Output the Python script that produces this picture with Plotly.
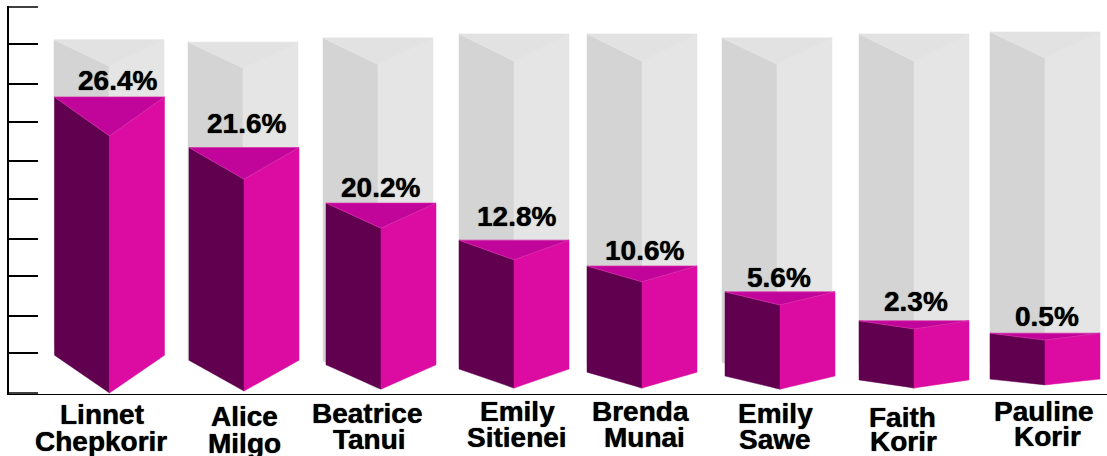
import plotly.graph_objects as go

# ---- data (value axis 0-100, hidden tick labels) ----
first_names = ["Linnet", "Alice", "Beatrice", "Emily", "Brenda", "Emily", "Faith", "Pauline"]
last_names = ["Chepkorir", "Milgo", "Tanui", "Sitienei", "Munai", "Sawe", "Korir", "Korir"]
share_labels = ["26.4%", "21.6%", "20.2%", "12.8%", "10.6%", "5.6%", "2.3%", "0.5%"]
bar_back_top = [76.7, 63.6, 49.2, 39.6, 32.9, 26.2, 18.7, 15.5]
bar_front_top = [66.6, 55.4, 42.7, 34.5, 28.8, 22.8, 16.6, 13.7]
bar_side_base = [9.8, 8.5, 7.3, 6.2, 5.4, 4.4, 3.4, 3.6]
bar_front_base = [0.0, 0.5, 1.0, 1.3, 1.3, 1.0, 1.3, 2.1]
track_back_top = [91.5, 90.9, 92.0, 93.0, 93.0, 92.0, 93.0, 93.5]
track_front_top = [84.7, 84.2, 85.1, 86.0, 86.0, 85.2, 86.0, 86.8]
track_side_base = [11.9, 8.5, 8.3, 8.0, 8.0, 8.0, 8.0, 8.0]
track_front_base = [1.0, 1.0, 1.0, 1.0, 1.0, 1.0, 1.0, 2.6]
tick_values = [0, 10.4, 20.0, 30.3, 39.9, 50.3, 60.1, 70.2, 80.0, 90.4, 100]

# ---- layout constants (horizontal axis runs in page pixels) ----
W, H = 1107, 456
AXIS_X, AXIS_TOP, AXIS_BASE = 9, 7, 393
TICK_LEN = 29
UNIT = (AXIS_BASE - AXIS_TOP) / 100
PAD_PX = 1  # axis range extends one pixel beyond 0 and 100 so the end ticks are not clipped
PAD = PAD_PX / UNIT

bar_left = [54.5, 189, 326, 459, 587, 725, 859, 990]
track_left = [54, 188, 323, 459, 587, 722, 859, 990]
HALF = 55
label_x = [117, 246, 380, 516.5, 644.5, 779, 916, 1047]
label_base = [91, 134, 198, 227, 261, 288.7, 312, 327]
first_x = [102, 244, 367, 517, 640.5, 775, 902, 1044]
first_base = [423, 425, 422, 420, 420, 422, 426, 420]
last_x = [101, 244.5, 369, 517, 644, 775, 903, 1047.5]
last_base = [450, 453, 448, 446, 446, 448, 450, 445]
VALUE_SHIFT, NAME_SHIFT = 4.5, 6.5  # distance from text baseline to the bottom of its box

FONT = "Liberation Sans, Arial, sans-serif"
DARK, PINK, CAP = "#60004F", "#DC0CA2", "#C2059A"
G_LEFT, G_RIGHT, G_TOP = "#D4D4D4", "#E5E5E5", "#E2E2E2"

fig = go.Figure()


def face(xs, ys, color, line=None, width=0.5):
    fig.add_trace(go.Scatter(
        x=xs + xs[:1], y=ys + ys[:1], mode="lines", fill="toself", fillcolor=color,
        line=dict(color=line or color, width=width), hoverinfo="skip", showlegend=False,
    ))


def prism(left, back_top, front_top, side_base, front_base, c_left, c_right, c_top, edge):
    mid, right = left + HALF, left + 2 * HALF
    face([left, mid, mid, left], [back_top, front_top, front_base, side_base], c_left)
    face([mid, right, right, mid], [front_top, back_top, side_base, front_base], c_right)
    face([left, right, mid], [back_top, back_top, front_top], c_top, line=edge, width=0.7)


for i in range(len(track_left)):
    prism(track_left[i], track_back_top[i], track_front_top[i], track_side_base[i],
          track_front_base[i], G_LEFT, G_RIGHT, G_TOP, G_TOP)
for i in range(len(bar_left)):
    prism(bar_left[i], bar_back_top[i], bar_front_top[i], bar_side_base[i],
          bar_front_base[i], DARK, PINK, CAP, "#D92DAA")

plot_bottom = AXIS_BASE + PAD_PX
plot_h = plot_bottom - (AXIS_TOP - PAD_PX)
annotations = []


def add_text(x, base, text, shift):
    annotations.append(dict(
        x=x, y=(plot_bottom - base) / plot_h, xref="x", yref="paper", text=text, showarrow=False,
        xanchor="center", yanchor="bottom", yshift=-shift,
        font=dict(family=FONT, size=28, color="#000000", shadow="0 0 1px #000000"),
        borderpad=0, borderwidth=0,
    ))


for i in range(len(share_labels)):
    add_text(label_x[i], label_base[i], f"<b>{share_labels[i]}</b>", VALUE_SHIFT)
    add_text(first_x[i], first_base[i], f"<b>{first_names[i]}</b>", NAME_SHIFT)
    add_text(last_x[i], last_base[i], f"<b>{last_names[i]}</b>", NAME_SHIFT)

# plotly drops inside ticks that touch the axis ends, so draw those two as lines on the value axis
end_ticks = [dict(type="line", xref="x", yref="y", x0=AXIS_X, x1=AXIS_X + TICK_LEN, y0=v, y1=v,
                  line=dict(color="#000000", width=1.5)) for v in (tick_values[0], tick_values[-1])]

fig.update_layout(
    width=W, height=H,
    margin=dict(l=AXIS_X, r=0, t=AXIS_TOP - PAD_PX, b=H - AXIS_BASE - PAD_PX, pad=0, autoexpand=False),
    paper_bgcolor="#FFFFFF", plot_bgcolor="#FFFFFF", showlegend=False,
    annotations=annotations, shapes=end_ticks,
    xaxis=dict(range=[AXIS_X, W], showgrid=False, zeroline=False, showticklabels=False,
               ticks="", showline=True, linecolor="#000000", linewidth=1),
    yaxis=dict(range=[-PAD, 100 + PAD], showgrid=False, zeroline=False, showticklabels=False,
               tickmode="array", tickvals=tick_values, ticks="inside", ticklen=TICK_LEN,
               tickwidth=1.5, tickcolor="#000000",
               showline=True, linecolor="#000000", linewidth=2),
)

fig.write_html("out.html", post_script="document.body.style.margin='0';",
               config=dict(displayModeBar=False))
